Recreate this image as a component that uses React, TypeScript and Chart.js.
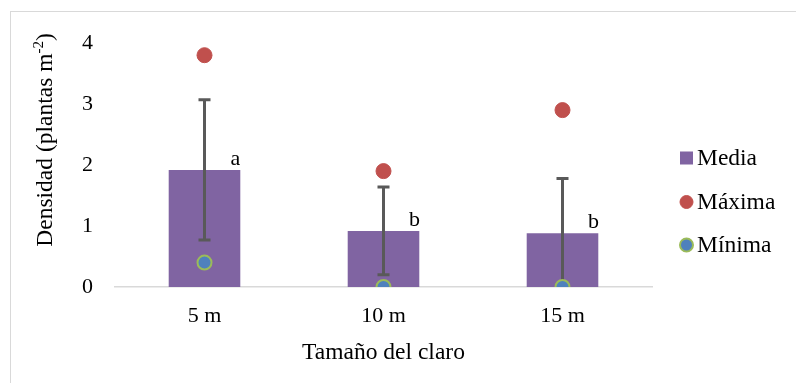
import { useEffect, useRef } from "react";
import { Chart, registerables } from "chart.js";

Chart.register(...registerables);

const categories = ["5 m", "10 m", "15 m"];
const mediaValues = [1.92, 0.92, 0.88];
const errorValues = [1.15, 0.72, 0.9];
const maximaValues = [3.8, 1.9, 2.9];
const minimaValues = [0.4, 0, 0];
const letters = ["a", "b", "b"];
const yMin = 0;
const yMax = 4;
const yStep = 1;
const seriesNames = ["Media", "Máxima", "Mínima"];
const yTitleParts = ["Densidad (plantas m", "-2", ")"];
const xTitle = "Tamaño del claro";

const FONT = "'Liberation Serif', 'Times New Roman', serif";
const TICK_FS = 22;
const FS = 23.5;
const SUP_FS = 15;

const errorBarPlugin = {
  id: "errorBars",
  afterDatasetDraw(chart: any, args: any) {
    if (args.index !== 0) return;
    const { ctx, scales } = chart;
    const x = scales.x;
    const y = scales.y;
    ctx.save();
    ctx.strokeStyle = "#595959";
    ctx.lineWidth = 3;
    mediaValues.forEach((m, i) => {
      const cx = x.getPixelForValue(i);
      const hi = y.getPixelForValue(m + errorValues[i]);
      const loV = m - errorValues[i];
      const lo = y.getPixelForValue(Math.max(loV, yMin));
      ctx.beginPath();
      ctx.moveTo(cx, hi);
      ctx.lineTo(cx, lo);
      ctx.moveTo(cx - 6, hi);
      ctx.lineTo(cx + 6, hi);
      if (loV > yMin) {
        ctx.moveTo(cx - 6, lo);
        ctx.lineTo(cx + 6, lo);
      }
      ctx.stroke();
    });
    ctx.fillStyle = "#000";
    ctx.font = `${TICK_FS}px ${FONT}`;
    ctx.textAlign = "center";
    ctx.textBaseline = "alphabetic";
    mediaValues.forEach((m, i) => {
      const cx = x.getPixelForValue(i);
      const top = y.getPixelForValue(m);
      ctx.fillText(letters[i], cx + 31, top - 5);
    });
    ctx.restore();
  },
};

const yTitlePlugin = {
  id: "yTitleSup",
  afterDraw(chart: any) {
    const { ctx } = chart;
    ctx.save();
    ctx.translate(46, 140);
    ctx.rotate(-Math.PI / 2);
    ctx.fillStyle = "#000";
    ctx.textBaseline = "middle";
    ctx.textAlign = "left";
    const big = `${FS}px ${FONT}`;
    const small = `${SUP_FS}px ${FONT}`;
    ctx.font = big;
    const w0 = ctx.measureText(yTitleParts[0]).width;
    const w2 = ctx.measureText(yTitleParts[2]).width;
    ctx.font = small;
    const w1 = ctx.measureText(yTitleParts[1]).width;
    let xx = -(w0 + w1 + w2) / 2;
    ctx.font = big;
    ctx.fillText(yTitleParts[0], xx, 0);
    xx += w0;
    ctx.font = small;
    ctx.fillText(yTitleParts[1], xx, -7);
    xx += w1;
    ctx.font = big;
    ctx.fillText(yTitleParts[2], xx, 0);
    ctx.restore();
  },
};

const legendPlugin = {
  id: "customLegend",
  afterDraw(chart: any) {
    const { ctx } = chart;
    const ds = chart.data.datasets;
    const x0 = 680;
    const ys = [158, 202, 245];
    ctx.save();
    ctx.font = `${FS}px ${FONT}`;
    ctx.textBaseline = "middle";
    ctx.textAlign = "left";
    ds.forEach((d: any, i: number) => {
      const cy = ys[i];
      if (i === 0) {
        ctx.fillStyle = d.backgroundColor;
        ctx.fillRect(x0, cy - 6.5, 13, 13);
      } else {
        ctx.beginPath();
        ctx.arc(x0 + 6.5, cy, 6.5, 0, Math.PI * 2);
        ctx.fillStyle = d.pointBackgroundColor;
        ctx.fill();
        ctx.lineWidth = d.pointBorderWidth;
        ctx.strokeStyle = d.pointBorderColor;
        ctx.stroke();
      }
      ctx.fillStyle = "#000";
      ctx.fillText(d.label, x0 + 17, cy + 1);
    });
    ctx.restore();
  },
};

export default function App() {
  const ref = useRef<HTMLCanvasElement | null>(null);
  useEffect(() => {
    if (!ref.current) return;
    const chart = new Chart(ref.current, {
      type: "bar",
      data: {
        labels: categories,
        datasets: [
          {
            type: "bar",
            label: seriesNames[0],
            data: mediaValues,
            backgroundColor: "#8064A2",
            barPercentage: 0.4,
            categoryPercentage: 1,
            order: 3,
          },
          {
            type: "line",
            label: seriesNames[1],
            data: maximaValues,
            showLine: false,
            pointRadius: 7.5,
            pointBackgroundColor: "#C0504D",
            pointBorderColor: "#C0504D",
            pointBorderWidth: 1,
            order: 2,
          },
          {
            type: "line",
            label: seriesNames[2],
            data: minimaValues,
            showLine: false,
            pointRadius: 7,
            pointBackgroundColor: "#4F81BD",
            pointBorderColor: "#9BBB59",
            pointBorderWidth: 2,
            order: 1,
          },
        ] as any,
      },
      options: {
        responsive: false,
        animation: false,
        layout: { padding: { left: 31, right: 144, top: 43, bottom: 16 } },
        plugins: {
          legend: { display: false },
          tooltip: { enabled: false },
        },
        scales: {
          x: {
            grid: { display: false },
            border: { display: true, color: "#d9d9d9", width: 1.5 },
            ticks: { color: "#000", font: { family: FONT, size: TICK_FS }, padding: 8 },
            title: {
              display: true,
              text: xTitle,
              color: "#000",
              font: { family: FONT, size: FS },
              padding: 0,
            },
            afterFit: (s: any) => {
              s.height = 383 - 287 - 16;
            },
          },
          y: {
            min: yMin,
            max: yMax,
            grid: { display: false },
            border: { display: false },
            ticks: {
              stepSize: yStep,
              color: "#000",
              font: { family: FONT, size: TICK_FS },
              padding: 14,
            },
            title: { display: false },
            afterFit: (s: any) => {
              s.width = 115 - 31;
            },
          },
        },
      },
      plugins: [errorBarPlugin, yTitlePlugin, legendPlugin],
    });
    return () => chart.destroy();
  }, []);
  return (
    <div style={{ position: "fixed", left: 0, top: 0, width: 796, height: 383, background: "#fff" }}>
      <div
        style={{
          position: "absolute",
          left: 10,
          top: 11,
          width: 800,
          height: 400,
          border: "1px solid #d9d9d9",
          boxSizing: "border-box",
        }}
      />
      <canvas ref={ref} width={796} height={383} style={{ position: "absolute", left: 0, top: 0 }} />
    </div>
  );
}
